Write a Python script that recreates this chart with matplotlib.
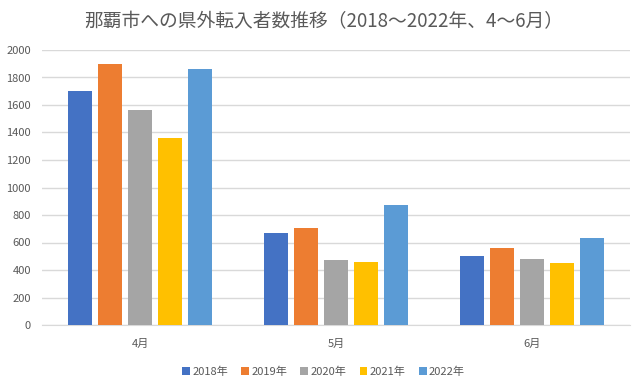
import matplotlib
matplotlib.use("Agg")
import matplotlib.pyplot as plt
import numpy as np
from matplotlib.patches import Patch

plt.rcParams['font.family'] = ['Noto Sans CJK JP', 'DejaVu Sans']

categories = ["4月", "5月", "6月"]
series_names = ["2018年", "2019年", "2020年", "2021年", "2022年"]
v2018 = [1702, 671, 502]
v2019 = [1898, 705, 560]
v2020 = [1565, 473, 480]
v2021 = [1362, 458, 451]
v2022 = [1863, 873, 633]
values = [v2018, v2019, v2020, v2021, v2022]
colors = ["#4472C4", "#ED7D31", "#A5A5A5", "#FFC000", "#5B9BD5"]
yticks = [0, 200, 400, 600, 800, 1000, 1200, 1400, 1600, 1800, 2000]

fig = plt.figure(figsize=(6.38, 3.87), dpi=100)
ax = fig.add_axes([42/638, (387-325)/387, (630-42)/638, 275/387])

x = np.arange(len(categories))
pitch = 0.153
width = 0.122
for i, (name, vals) in enumerate(zip(series_names, values)):
    ax.bar(x + (i - 2) * pitch, vals, width=width, color=colors[i], label=name, zorder=3)

ax.set_xlim(-0.5, 2.5)
ax.set_ylim(0, 2000)
ax.set_yticks(yticks)
ax.set_yticklabels([str(t) for t in yticks])
ax.set_xticks(x)
ax.set_xticklabels(categories)
ax.grid(axis='y', color='#D9D9D9', linewidth=1, zorder=0)
for s in ['top', 'right', 'left']:
    ax.spines[s].set_visible(False)
ax.spines['bottom'].set_color('#D9D9D9')
ax.tick_params(axis='both', length=0, colors='#595959', labelsize=8)
ax.tick_params(axis='x', pad=10)
ax.tick_params(axis='y', pad=8)

fig.text(0.508, 0.945, "那覇市への県外転入者数推移（2018～2022年、4～6月）",
         ha='center', va='center', fontsize=13.5, color='#595959')

handles = [Patch(facecolor=c, label=n) for c, n in zip(colors, series_names)]
fig.legend(handles=handles, loc='center', bbox_to_anchor=(0.507, 0.04), ncol=5,
           frameon=False, fontsize=8, handlelength=0.7, handleheight=0.7,
           handletextpad=0.2, columnspacing=1.2, labelcolor='#595959')

fig.savefig("out.png", dpi=100)
